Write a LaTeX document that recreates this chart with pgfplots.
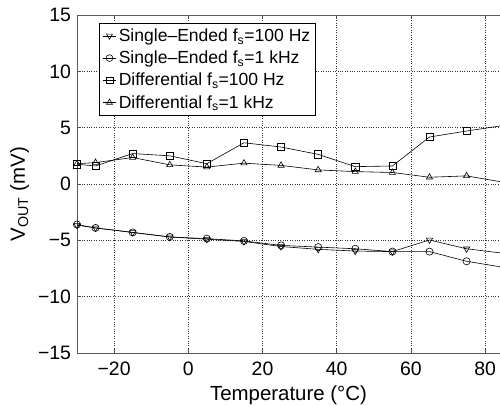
\documentclass[border=0pt]{standalone}
\usepackage{pgfplots}
\pgfplotsset{compat=1.18}
\usepackage{fontspec}
\setmainfont{Liberation Sans}
\begin{document}
\begin{tikzpicture}
\useasboundingbox (-77bp,-53bp) rectangle (423bp,353bp);
\begin{axis}[
  scale only axis,
  width=423bp, height=338bp,
  xmin=-30, xmax=84, ymin=-15, ymax=15,
  axis x line=box, axis y line=left,
  axis line style={-, black!65, line width=0.9pt},
  xtick={-20,0,20,40,60,80},
  xticklabels={−20,0,20,40,60,80},
  ytick={-15,-10,-5,0,5,10,15},
  yticklabels={−15,−10,−5,0,5,10,15},
  tick align=inside,
  major tick length=4bp,
  tick style={black!70, line width=0.5pt},
  grid=major,
  major grid style={dotted, black!80, line width=0.5pt},
  ticklabel style={font=\fontsize{19.5}{21}\selectfont},
  xticklabel style={yshift=-5.5bp},
  yticklabel style={xshift=-2.5bp},
  xlabel={Temperature (°C)},
  ylabel={V\textsubscript{OUT} (mV)},
  label style={font=\fontsize{20.5}{22}\selectfont},
  xlabel style={at={([yshift=-47bp]axis description cs:0.5,0)}, anchor=base},
  ylabel style={at={([xshift=-52bp]axis description cs:0,0.47)}, anchor=base},
  legend style={at={(rel axis cs:0.052,0.976)}, anchor=north west, draw=black, line width=0.8pt,
    font=\fontsize{16}{18}\selectfont, row sep=3.5pt, inner sep=3bp,
    nodes={scale=1.1, transform shape}},
  legend cell align=left,
  legend image code/.code={\draw[mark repeat=2,mark phase=2] plot coordinates {(0cm,0cm) (0.24cm,0cm) (0.48cm,0cm)};},
  legend image post style={mark size=3.4pt},
  every axis plot/.append style={black, line width=0.6pt, mark size=3.6pt, mark options={solid, fill=white}},
]
\addplot[black, mark=triangle, mark options={rotate=180, solid, fill=white}] coordinates {
(-30,-3.65) (-25,-3.9) (-15,-4.3) (-5,-4.7) (5,-4.9) (15,-5.1) (25,-5.55) (35,-5.8) (45,-5.95) (55,-6.0) (65,-4.97) (75,-5.75) (85,-6.15)};
\addlegendentry{Single–Ended f\textsubscript{s}=100 Hz}
\addplot[black, mark=o] coordinates {
(-30,-3.6) (-25,-3.9) (-15,-4.3) (-5,-4.7) (5,-4.85) (15,-5.05) (25,-5.45) (35,-5.6) (45,-5.75) (55,-6.0) (65,-6.0) (75,-6.86) (85,-7.4)};
\addlegendentry{Single–Ended f\textsubscript{s}=1 kHz}
\addplot[black, mark=square] coordinates {
(-30,1.75) (-25,1.6) (-15,2.7) (-5,2.5) (5,1.8) (15,3.66) (25,3.28) (35,2.63) (45,1.54) (55,1.6) (65,4.17) (75,4.7) (85,5.2)};
\addlegendentry{Differential f\textsubscript{s}=100 Hz}
\addplot[black, mark=triangle] coordinates {
(-30,1.8) (-25,1.9) (-15,2.35) (-5,1.7) (5,1.5) (15,1.85) (25,1.65) (35,1.25) (45,1.1) (55,1.02) (65,0.6) (75,0.72) (85,0.15)};
\addlegendentry{Differential f\textsubscript{s}=1 kHz}
\end{axis}
\end{tikzpicture}
\end{document}
